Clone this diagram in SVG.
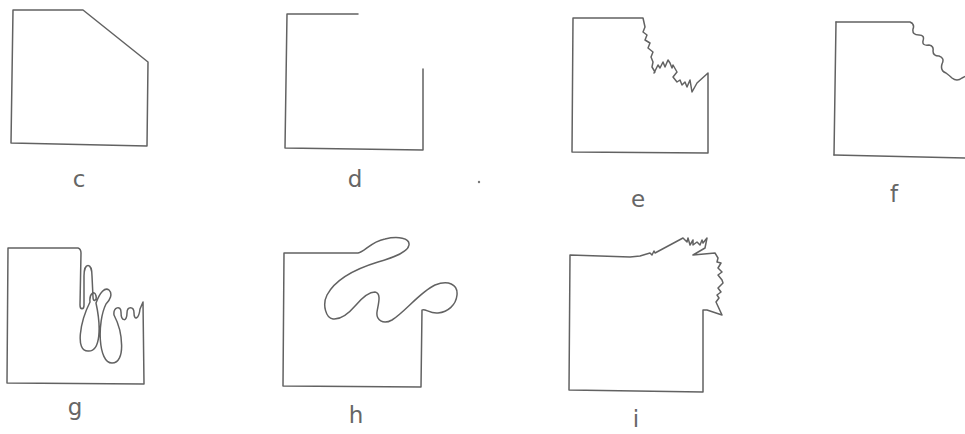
<svg xmlns="http://www.w3.org/2000/svg" width="965" height="434" viewBox="0 0 965 434">
<style>
.s{fill:none;stroke:#626262;stroke-width:1.5;stroke-linejoin:round;stroke-linecap:round}
.l{font-family:"DejaVu Sans","Liberation Sans",sans-serif;font-size:23px;fill:#666;text-anchor:middle}
</style>
<rect width="965" height="434" fill="#fff"/>
<g id="c">
<path class="s" d="M13,10 L83,10 L148,62 L147,146 L11,143 Z"/>
<text class="l" x="79" y="187">c</text>
</g>
<g id="d">
<path class="s" d="M358,14 L287,14 L285,148 L423,150 L423,69"/>
<text class="l" x="355" y="187">d</text>
</g>
<circle cx="479" cy="182" r="1.2" fill="#777"/>
<g id="e">
<path class="s" d="M573,18 L643,18 L645,27 L643,32 L647,35 L645,40 L650,43 L648,48 L653,52 L651,57 L653,62 L652,67 L655,72 L654,73 L658,65 L660,68 L663,62 L665,67 L668,60 L670,63 L672,68 L673,65 L677,72 L673,77 L677,82 L680,80 L682,85 L685,82 L687,87 L690,80 L692,92 L697,83 L708,73 L708,153 L572,152 Z"/>
<text class="l" x="638" y="207">e</text>
</g>
<g id="f">
<path class="s" d="M836,22 L910,22 Q915,24 913,29 Q912,35 919,35 Q925,35 923,41 Q922,46 929,45 Q934,46 933,51 Q933,56 939,56 Q945,58 942,64 Q940,71 946,73 Q950,76 952,78 Q957,82 962,78 L966,76"/>
<path class="s" d="M834,155 L966,158"/>
<path class="s" d="M836,22 L834,155"/>
<text class="l" x="894" y="202">f</text>
</g>
<g id="g">
<path class="s" d="M8,248 L78,248 Q81,249 81,253 L80,305 C80,310 84,310 84,305 L84,276 C84,262 92,262 92,276 L93,297 C93,303 97,300 96,296 C95,290 89,293 90,302 C80,322 75,351 88,351 C101,352 101,326 96,303 C100,292 105,287 109,290 C113,294 110,300 106,304 C97,322 98,363 112,363 C126,363 123,332 114,315 C113,307 121,305 121,312 C121,322 127,322 127,313 C127,306 134,306 134,313 C134,321 139,319 140,309 L143,302 L144,384 L7,383 Z"/>
<text class="l" x="75" y="415">g</text>
</g>
<g id="h">
<path class="s" d="M284,253 L358,253 C365,252 370,242 385,239 C398,236 410,238 409,245 C408,252 395,257 378,262 C355,269 335,280 327,295 C322,305 326,318 333,319 C342,320 350,312 356,305 C362,298 368,292 375,292 C382,293 378,305 377,312 C376,320 383,325 392,320 C405,312 420,292 435,285 C448,280 458,284 457,295 C456,305 448,312 438,313 C430,314 425,308 422,310 L421,387 L283,386 Z"/>
<text class="l" x="356" y="423">h</text>
</g>
<g id="i">
<path class="s" d="M570,255 L630,257 L640,256 L650,253 L652,255 L654,251 L655,253 L683,238 L687,242 L688,238 L690,245 L693,240 L693,245 L697,242 L700,245 L702,240 L703,243 L707,238 L705,248 L693,255 L715,253 L718,258 L717,262 L721,263 L718,268 L722,272 L718,275 L722,280 L723,283 L718,288 L721,292 L717,295 L719,298 L716,302 L722,315 L707,310 L703,310 L703,392 L569,390 Z"/>
<text class="l" x="636" y="427">i</text>
</g>
</svg>
